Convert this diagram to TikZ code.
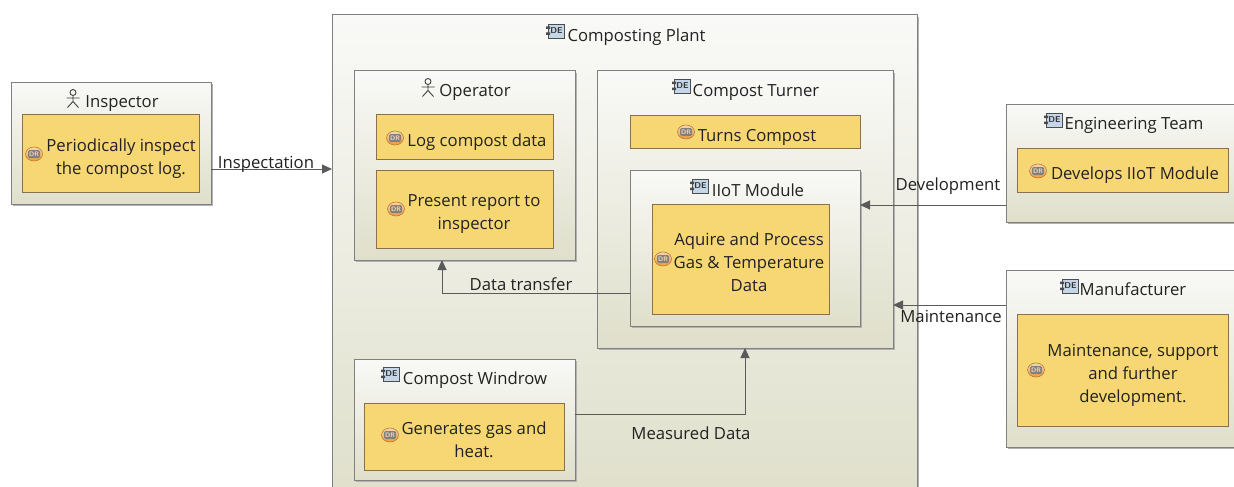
\documentclass[tikz,border=0pt]{standalone}
\usepackage{fontspec}
\setmainfont{Open Sans}
\usetikzlibrary{arrows.meta,shadows}
\definecolor{txtc}{HTML}{222222}
\definecolor{boxtop}{HTML}{F9F9F7}
\definecolor{boxbot}{HTML}{DFDFCB}
\definecolor{reqfill}{HTML}{F7D774}
\definecolor{reqline}{HTML}{8A6F50}
\definecolor{frameline}{HTML}{808080}
\definecolor{connline}{HTML}{5A5A5A}
\definecolor{iconblue}{HTML}{C5D6E8}
\definecolor{iconorange}{HTML}{EE9A3C}
\tikzset{
  every node/.style={inner sep=0pt,outer sep=0pt},
  framebox/.style={draw=frameline,line width=1pt,top color=boxtop,bottom color=boxbot,
    general shadow={shadow xshift=2.2pt,shadow yshift=-2.2pt,fill=black!30}},
  reqbox/.style={draw=reqline,line width=1pt,fill=reqfill},
  lbl/.style={font=\fontsize{16.7}{23}\selectfont,text=txtc,align=center},
  conn/.style={draw=connline,line width=.9pt,-{Triangle[length=10pt,width=9pt]}},
  iconcomp/.pic={
    \draw[draw=black!70,line width=.8pt,fill=iconblue] (-6.5,-7) rectangle (9,7);
    \fill[black!70] (-9,-4.5) rectangle (-5,-2) (-9,1.5) rectangle (-5,4);
    \node[font=\fontsize{8.5}{9}\sffamily\bfseries,text=black!80] at (1.5,0) {DE};
  },
  iconreq/.pic={
    \draw[draw=iconorange!80!black,line width=.6pt,top color=iconorange!40!white,bottom color=iconorange] (0,0) circle[x radius=8.5pt,y radius=7pt];
    \fill[black!50,rounded corners=1.5pt] (-6,-4) rectangle (6,4);
    \node[font=\fontsize{6.5}{7}\sffamily\bfseries,text=orange!30] at (0,0) {DR};
  },
  iconactor/.pic={
    \draw[draw=black!75,line width=.9pt] (0,-6.5) circle[radius=3pt]
      (0,-3.5) -- (0,2.5) (-6.5,-1) -- (6.5,-1) (0,2.5) -- (-5.5,8.5) (0,2.5) -- (5.5,8.5);
  }
}
\newcommand\boxat[7][]{%
  \pgfmathsetmacro\bw{#5-#3}\pgfmathsetmacro\bh{#6-#4}%
  \pgfmathsetmacro\bx{(#5+#3)/2}\pgfmathsetmacro\by{(#6+#4)/2}%
  \node[#1,minimum width=\bw pt,minimum height=\bh pt] (#2) at (\bx,\by) {#7};}
\begin{document}
\begin{tikzpicture}[x=1pt,y=-1pt]
\useasboundingbox (0,0) rectangle (1234,487);
\clip (0,0) rectangle (1234,487);
\fill[white] (0,0) rectangle (1234,487);
% frames
\boxat[framebox]{plant}{332}{15}{917}{505}{}
\boxat[framebox]{ins}{11}{82}{211}{204}{}
\boxat[framebox]{op}{354}{71}{575}{260}{}
\boxat[framebox]{turner}{597}{71}{893}{348}{}
\boxat[framebox]{iiot}{630}{170}{860}{326}{}
\boxat[framebox]{win}{354}{359}{575}{480}{}
\boxat[framebox]{eng}{1006}{104}{1250}{222}{}
\boxat[framebox]{man}{1006}{270}{1250}{447}{}
% requirement boxes
\boxat[reqbox]{r1}{22}{114}{199}{192}{}
\boxat[reqbox]{r2}{376}{114}{553}{159}{}
\boxat[reqbox]{r3}{376}{170}{553}{248}{}
\boxat[reqbox]{r4}{630}{115}{860}{148}{}
\boxat[reqbox]{r5}{652}{204}{829}{314}{}
\boxat[reqbox]{r6}{364}{403}{564}{470}{}
\boxat[reqbox]{r7}{1017}{148}{1228}{192}{}
\boxat[reqbox]{r8}{1017}{314}{1228}{426}{}
% titles
\node[lbl] (tplant) at (636.5,37) {Composting Plant};
\pic at (555,31) {iconcomp};
\node[lbl] (tins) at (122,104) {Inspector};
\pic at (73,99) {iconactor};
\node[lbl] (top) at (475,92) {Operator};
\pic at (428,88) {iconactor};
\node[lbl] (tturn) at (756,92) {Compost Turner};
\pic at (681,86) {iconcomp};
\node[lbl] (tiiot) at (758,190) {IIoT Module};
\pic at (699,186) {iconcomp};
\node[lbl] (twin) at (475,380) {Compost Windrow};
\pic at (390,374) {iconcomp};
\node[lbl] (teng) at (1134,125) {Engineering Team};
\pic at (1053,120) {iconcomp};
\node[lbl] (tman) at (1133,289) {Manufacturer};
\pic at (1069,286) {iconcomp};
% requirement texts
\node[lbl] (x1) at (121,159) {Periodically inspect\\the compost log.};
\pic at (34,154) {iconreq};
\node[lbl] (x2) at (477,142) {Log compost data};
\pic at (395,138) {iconreq};
\node[lbl] (x3) at (474,214) {Present report to\\inspector};
\pic at (396,209) {iconreq};
\node[lbl] (x4) at (757,137) {Turns Compost};
\pic at (686,132) {iconreq};
\node[lbl] (x5) at (749,262) {Aquire and Process\\Gas \& Temperature\\Data};
\pic at (663,259) {iconreq};
\node[lbl] (x6) at (474,440) {Generates gas and\\heat.};
\pic at (390,435) {iconreq};
\node[lbl] (x7) at (1135,175) {Develops IIoT Module};
\pic at (1038,171) {iconreq};
\node[lbl] (x8) at (1133,375) {Maintenance, support\\and further\\development.};
\pic at (1036,370) {iconreq};
% connectors
\coordinate (c1) at ([yshift=-26pt]ins.east);
\draw[conn] (c1) -- (c1 -| plant.west);
\coordinate (c2) at ([yshift=-45pt]iiot.west);
\draw[conn] (c2) -| ([xshift=-22.5pt]op.south);
\coordinate (c3) at ([yshift=5.5pt]win.east);
\draw[conn] (c3) -| (turner.south);
\coordinate (c4) at ([yshift=-42pt]eng.west);
\draw[conn] (c4) -- (c4 -| iiot.east);
\coordinate (c5) at ([yshift=53.5pt]man.west);
\draw[conn] (c5) -- (c5 -| turner.east);
% connector labels
\node[lbl] (l1) at (266,164) {Inspectation};
\node[lbl] (l2) at (521,284) {Data transfer};
\node[lbl] (l3) at (691,433) {Measured Data};
\node[lbl] (l4) at (948,186) {Development};
\node[lbl] (l5) at (951,316) {Maintenance};
\end{tikzpicture}
\end{document}
